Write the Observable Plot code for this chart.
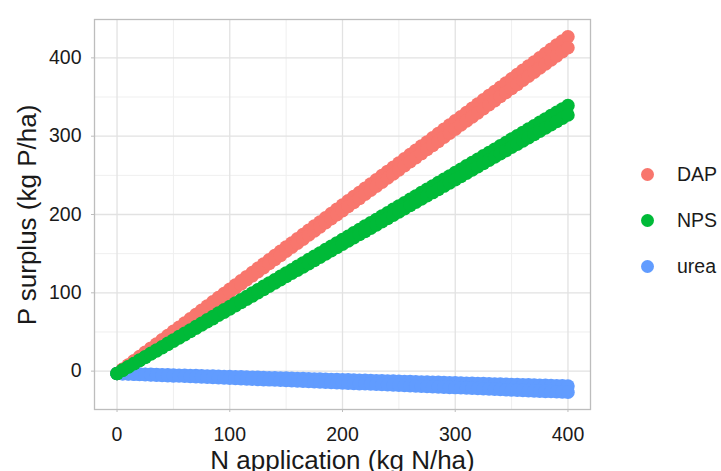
<!DOCTYPE html>
<html>
<head>
<meta charset="utf-8">
<script src="https://cdn.jsdelivr.net/npm/d3@7"></script>
<script src="https://cdn.jsdelivr.net/npm/@observablehq/plot@0.6"></script>
<style>
  body { margin: 0; background: #fff; }
  #wrap { position: relative; width: 721px; height: 471px; font-family: "Liberation Sans", Arial, sans-serif; }
  #wrap svg { position: absolute; left: 0; top: 0; }
  #legend { position: absolute; left: 641px; top: 151px; }
  .item { display: flex; align-items: center; height: 46px; }
  .sw { width: 13px; height: 13px; border-radius: 50%; }
  .lab { margin-left: 23px; font-size: 19.5px; color: #1a1a1a; }
  #ytitle { position: absolute; left: 27px; top: 215px; transform: translate(-50%, -50%) rotate(-90deg);
            white-space: nowrap; font-size: 26px; line-height: 1; color: #1a1a1a; }
</style>
</head>
<body>
<div id="wrap"><div id="legend"></div><div id="ytitle"></div></div>
<script>
// N application (kg N/ha)
const nApplication = [0,5,10,15,20,25,30,35,40,45,50,55,60,65,70,75,80,85,90,95,100,
  105,110,115,120,125,130,135,140,145,150,155,160,165,170,175,180,185,190,195,200,
  205,210,215,220,225,230,235,240,245,250,255,260,265,270,275,280,285,290,295,300,
  305,310,315,320,325,330,335,340,345,350,355,360,365,370,375,380,385,390,395,400];

// P surplus (kg P/ha), two scenario lines per fertilizer
const dapHigh = [-3,2.4,7.8,13.1,18.5,23.9,29.3,34.6,40,45.4,50.8,56.1,61.5,66.9,72.3,77.6,83,88.4,93.8,99.1,104.5,
  109.9,115.3,120.6,126,131.4,136.8,142.1,147.5,152.9,158.3,163.6,169,174.4,179.8,185.1,190.5,195.9,201.3,206.6,212,
  217.4,222.8,228.1,233.5,238.9,244.3,249.6,255,260.4,265.8,271.1,276.5,281.9,287.3,292.6,298,303.4,308.8,314.1,319.5,
  324.9,330.3,335.6,341,346.4,351.8,357.1,362.5,367.9,373.3,378.6,384,389.4,394.8,400.1,405.5,410.9,416.3,421.6,427];
const dapLow = [-3,2.2,7.4,12.6,17.8,23,28.2,33.4,38.6,43.8,49,54.2,59.4,64.6,69.8,75,80.2,85.4,90.6,95.8,101,
  106.2,111.4,116.6,121.8,127,132.2,137.4,142.6,147.8,153,158.2,163.4,168.6,173.8,179,184.2,189.4,194.6,199.8,205,
  210.2,215.4,220.6,225.8,231,236.2,241.4,246.6,251.8,257,262.2,267.4,272.6,277.8,283,288.2,293.4,298.6,303.8,309,
  314.2,319.4,324.6,329.8,335,340.2,345.4,350.6,355.8,361,366.2,371.4,376.6,381.8,387,392.2,397.4,402.6,407.8,413];
const npsHigh = [-3,1.3,5.6,9.8,14.1,18.4,22.7,26.9,31.2,35.5,39.8,44,48.3,52.6,56.9,61.1,65.4,69.7,74,78.2,82.5,
  86.8,91.1,95.3,99.6,103.9,108.2,112.4,116.7,121,125.3,129.5,133.8,138.1,142.4,146.6,150.9,155.2,159.5,163.7,168,
  172.3,176.6,180.8,185.1,189.4,193.7,197.9,202.2,206.5,210.8,215,219.3,223.6,227.9,232.1,236.4,240.7,245,249.2,253.5,
  257.8,262.1,266.3,270.6,274.9,279.2,283.4,287.7,292,296.3,300.5,304.8,309.1,313.4,317.6,321.9,326.2,330.5,334.7,339];
const npsLow = [-3,1.1,5.3,9.4,13.5,17.6,21.8,25.9,30,34.1,38.3,42.4,46.5,50.6,54.8,58.9,63,67.1,71.3,75.4,79.5,
  83.6,87.8,91.9,96,100.1,104.3,108.4,112.5,116.6,120.8,124.9,129,133.1,137.3,141.4,145.5,149.6,153.8,157.9,162,
  166.1,170.3,174.4,178.5,182.6,186.8,190.9,195,199.1,203.3,207.4,211.5,215.6,219.8,223.9,228,232.1,236.3,240.4,244.5,
  248.6,252.8,256.9,261,265.1,269.3,273.4,277.5,281.6,285.8,289.9,294,298.1,302.3,306.4,310.5,314.6,318.8,322.9,327];
const ureaHigh = [-3,-3.2,-3.4,-3.6,-3.8,-4,-4.2,-4.4,-4.6,-4.8,-5,-5.2,-5.4,-5.6,-5.8,-6,-6.2,-6.4,-6.6,-6.8,-7,
  -7.2,-7.4,-7.6,-7.8,-8,-8.2,-8.4,-8.6,-8.8,-9,-9.2,-9.4,-9.6,-9.8,-10,-10.2,-10.4,-10.6,-10.8,-11,
  -11.2,-11.4,-11.6,-11.8,-12,-12.2,-12.4,-12.6,-12.8,-13,-13.2,-13.4,-13.6,-13.8,-14,-14.2,-14.4,-14.6,-14.8,-15,
  -15.2,-15.4,-15.6,-15.8,-16,-16.2,-16.4,-16.6,-16.8,-17,-17.2,-17.4,-17.6,-17.8,-18,-18.2,-18.4,-18.6,-18.8,-19];
const ureaLow = [-3,-3.3,-3.6,-3.9,-4.2,-4.5,-4.8,-5.1,-5.4,-5.7,-6,-6.3,-6.6,-6.9,-7.2,-7.5,-7.8,-8.1,-8.4,-8.7,-9,
  -9.3,-9.6,-9.9,-10.2,-10.5,-10.8,-11.1,-11.4,-11.7,-12,-12.3,-12.6,-12.9,-13.2,-13.5,-13.8,-14.1,-14.4,-14.7,-15,
  -15.3,-15.6,-15.9,-16.2,-16.5,-16.8,-17.1,-17.4,-17.7,-18,-18.3,-18.6,-18.9,-19.2,-19.5,-19.8,-20.1,-20.4,-20.7,-21,
  -21.3,-21.6,-21.9,-22.2,-22.5,-22.8,-23.1,-23.4,-23.7,-24,-24.3,-24.6,-24.9,-25.2,-25.5,-25.8,-26.1,-26.4,-26.7,-27];

const fertilizers = ["DAP", "NPS", "urea"];
const fertColors = ["#F8766D", "#00BA38", "#619CFF"];
const xTicks = [0, 100, 200, 300, 400];
const yTicks = [0, 100, 200, 300, 400];
const xMinor = [50, 150, 250, 350];
const yMinor = [50, 150, 250, 350];
const xTitle = "N application (kg N/ha)";
const yTitle = "P surplus (kg P/ha)";

// build rows (draw order: DAP, urea, NPS)
const rows = [];
function add(fert, ys) { ys.forEach((p, i) => rows.push({fert, n: nApplication[i], p})); }
add("DAP", dapHigh); add("DAP", dapLow);
add("urea", ureaHigh); add("urea", ureaLow);
add("NPS", npsHigh); add("NPS", npsLow);

const chart = Plot.plot({
  width: 721,
  height: 471,
  marginLeft: 94,
  marginRight: 131,
  marginTop: 19,
  marginBottom: 62,
  style: {fontFamily: "'Liberation Sans', Arial, sans-serif", background: "transparent", color: "#1a1a1a"},
  x: {domain: [-20, 420]},
  y: {domain: [-49, 449]},
  color: {domain: fertilizers, range: fertColors},
  marks: [
    Plot.gridX(xMinor, {stroke: "#efefef", strokeOpacity: 1, strokeWidth: 1}),
    Plot.gridY(yMinor, {stroke: "#efefef", strokeOpacity: 1, strokeWidth: 1}),
    Plot.gridX(xTicks, {stroke: "#e2e2e2", strokeOpacity: 1, strokeWidth: 1.3}),
    Plot.gridY(yTicks, {stroke: "#e2e2e2", strokeOpacity: 1, strokeWidth: 1.3}),
    Plot.dot(rows, {x: "n", y: "p", fill: "fert", r: 6.8}),
    Plot.frame({stroke: "#bdbdbd", strokeWidth: 1.3}),
    Plot.axisX(xTicks, {tickSize: 3, tickPadding: 15, stroke: "#bdbdbd", fill: "#1a1a1a", fontSize: 19.5, label: null}),
    Plot.axisY(yTicks, {tickSize: 3, tickPadding: 10, stroke: "#bdbdbd", fill: "#1a1a1a", fontSize: 19.5, label: null}),
    Plot.text([xTitle], {text: d => d, frameAnchor: "bottom", dy: 59, lineAnchor: "bottom", fontSize: 26, fill: "#1a1a1a"})
  ]
});
document.getElementById("wrap").prepend(chart);
document.getElementById("ytitle").textContent = yTitle;

const legend = document.getElementById("legend");
fertilizers.forEach((f, i) => {
  const item = document.createElement("div");
  item.className = "item";
  const sw = document.createElement("div");
  sw.className = "sw";
  sw.style.background = fertColors[i];
  const lab = document.createElement("span");
  lab.className = "lab";
  lab.textContent = f;
  item.append(sw, lab);
  legend.append(item);
});
</script>
</body>
</html>
